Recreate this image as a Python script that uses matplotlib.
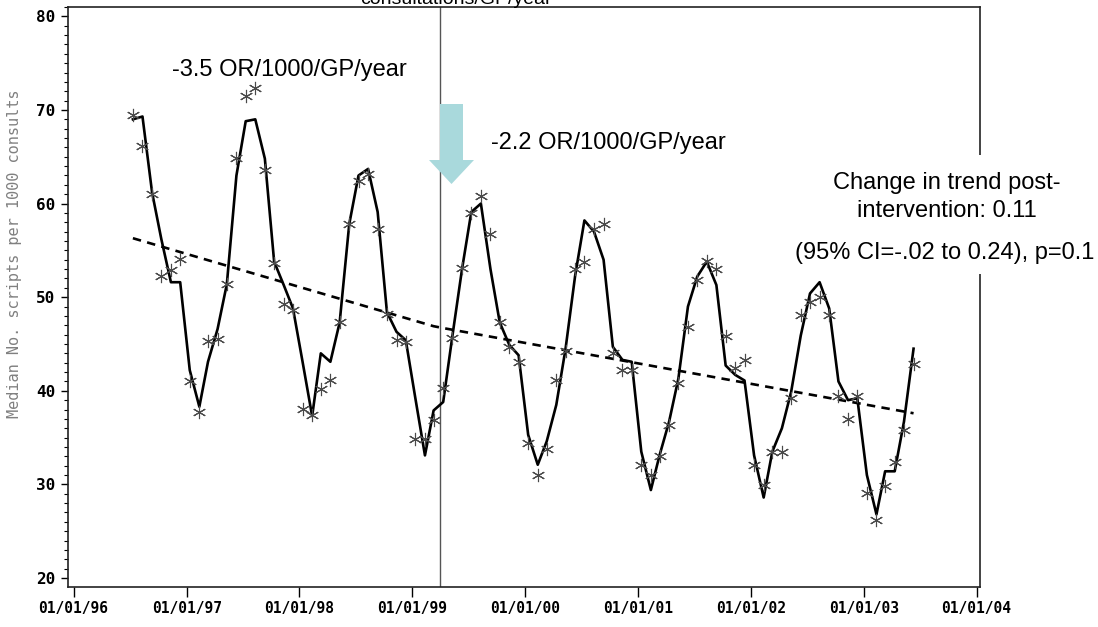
import matplotlib
matplotlib.use('Agg')
import matplotlib.pyplot as plt
from matplotlib.patches import Rectangle, Polygon
from matplotlib.ticker import MultipleLocator
import pandas as pd

# ---------------- data ----------------
months = pd.date_range('1996-07-01', periods=84, freq='MS') + pd.Timedelta(days=10)

observed = [69.5, 66.2, 61.0, 52.3, 52.9, 54.1, 41.0, 37.7, 45.3, 45.5, 51.4, 64.9,
            71.5, 72.3, 63.6, 53.6, 49.3, 48.6, 38.1, 37.4, 40.2, 41.1, 47.3, 57.8,
            62.4, 63.2, 57.3, 48.2, 45.4, 45.2, 34.9, 34.9, 36.9, 40.3, 45.6, 53.1,
            59.0, 60.8, 56.8, 47.3, 44.7, 43.1, 34.4, 31.0, 33.8, 41.1, 44.3, 53.0,
            53.8, 57.3, 57.8, 44.0, 42.2, 42.2, 32.1, 31.0, 33.0, 36.3, 40.8, 46.8,
            51.8, 53.9, 53.0, 45.9, 42.4, 43.3, 32.1, 29.9, 33.5, 33.5, 39.2, 48.1,
            49.5, 50.0, 48.1, 39.4, 37.0, 39.4, 29.1, 26.2, 29.8, 32.4, 35.8, 42.9]

fitted = [69.0, 69.3, 61.2, 56.2, 51.6, 51.6, 42.2, 38.3, 43.1, 46.6, 51.4, 63.0,
          68.8, 69.0, 64.8, 53.8, 51.3, 48.8, 43.1, 37.3, 44.0, 43.1, 47.3, 57.8,
          63.0, 63.7, 59.1, 48.4, 46.3, 45.4, 39.2, 33.1, 37.9, 38.8, 45.9, 53.0,
          59.1, 60.0, 53.0, 47.3, 44.9, 43.8, 35.3, 32.1, 34.6, 38.5, 44.5, 52.3,
          58.2, 57.0, 54.0, 44.7, 43.3, 43.1, 33.5, 29.4, 33.1, 36.7, 41.3, 49.0,
          52.2, 53.8, 51.3, 42.7, 41.7, 41.1, 33.1, 28.6, 33.5, 36.0, 39.9, 45.9,
          50.4, 51.6, 48.8, 41.0, 39.0, 39.2, 31.0, 26.8, 31.4, 31.4, 36.7, 44.5]

trend_idx = [0, 32, 33, 83]
trend_vals = [56.3, 46.9, 46.7, 37.6]

intervention = pd.Timestamp('1999-04-01')
year_ticks = pd.date_range('1996-01-01', '2004-01-01', freq='YS')
tick_labels = ['01/01/96', '01/01/97', '01/01/98', '01/01/99', '01/01/00',
               '01/01/01', '01/01/02', '01/01/03', '01/01/04']
y_ticks = [20, 30, 40, 50, 60, 70, 80]

W, H = 1098, 627
fig = plt.figure(figsize=(W / 100, H / 100), dpi=100)
ax = fig.add_axes([68 / W, 40 / H, 912 / W, 580 / H])

ax.plot(months, fitted, color='black', lw=1.9, zorder=3)
ax.plot(months[trend_idx], trend_vals, color='black', lw=1.9,
        ls=(0, (3.2, 2.4)), zorder=3)
ax.plot(months, observed, ls='none', marker=(6, 2, 0), ms=9.5, mew=0.8,
        color='#4a4a4a', zorder=4)
ax.axvline(intervention, color='#555555', lw=1.0, zorder=2)

ax.set_ylim(19.04, 81.0)
ax.set_xlim(pd.Timestamp('1995-12-14'), pd.Timestamp('2004-01-12'))
ax.set_yticks(y_ticks)
ax.set_yticklabels([str(v) for v in y_ticks], fontfamily='DejaVu Sans Mono',
                   fontweight='bold', fontsize=11.5)
ax.yaxis.set_minor_locator(MultipleLocator(1))
ax.set_xticks(year_ticks)
ax.set_xticklabels(tick_labels, fontfamily='DejaVu Sans Mono',
                   fontweight='bold', fontsize=10.5)
ax.tick_params(axis='y', which='major', length=5, width=1, pad=4, direction='out')
ax.tick_params(axis='y', which='minor', length=3, width=0.8, direction='out')
ax.tick_params(axis='x', which='major', length=7, width=1, pad=3, direction='out')
for s in ax.spines.values():
    s.set_linewidth(1.2)
    s.set_color('#222222')

ax.set_ylabel('Median No. scripts per 1000 consults', fontfamily='DejaVu Sans Mono',
              fontsize=11, color='#808080')
ax.yaxis.set_label_coords(-0.05, 0.575)

# clipped title at very top
fig.text(456 / W, 1 - 4 / H, 'consultations/GP/year', ha='center', va='baseline',
         fontfamily='Liberation Sans', fontsize=14)

# annotations
fig.text(289 / W, 1 - 70 / H, '-3.5 OR/1000/GP/year', ha='center', va='center',
         fontfamily='Liberation Sans', fontsize=17)
fig.text(608 / W, 1 - 143 / H, '-2.2 OR/1000/GP/year', ha='center', va='center',
         fontfamily='Liberation Sans', fontsize=17)

# white text box covering right border
fig.patches.append(Rectangle((790 / W, 1 - 274 / H), (W - 790) / W, 119 / H,
                             transform=fig.transFigure, facecolor='white',
                             edgecolor='none', zorder=5))
fig.text(947 / W, 1 - 197 / H, 'Change in trend post-\nintervention: 0.11',
         ha='center', va='center', fontfamily='Liberation Sans', fontsize=17,
         linespacing=1.3, zorder=6)
fig.text(945 / W, 1 - 253 / H, '(95% CI=-.02 to 0.24), p=0.1', ha='center',
         va='center', fontfamily='Liberation Sans', fontsize=17, zorder=6)

# intervention arrow
arrow_px = [(440, 104), (463, 104), (463, 160), (474, 160), (451.5, 184),
            (429, 160), (440, 160)]
fig.patches.append(Polygon([(x / W, 1 - y / H) for x, y in arrow_px],
                           closed=True, transform=fig.transFigure,
                           facecolor='#a9d9dc', edgecolor='none', zorder=5))

fig.savefig('out.png', dpi=100)
